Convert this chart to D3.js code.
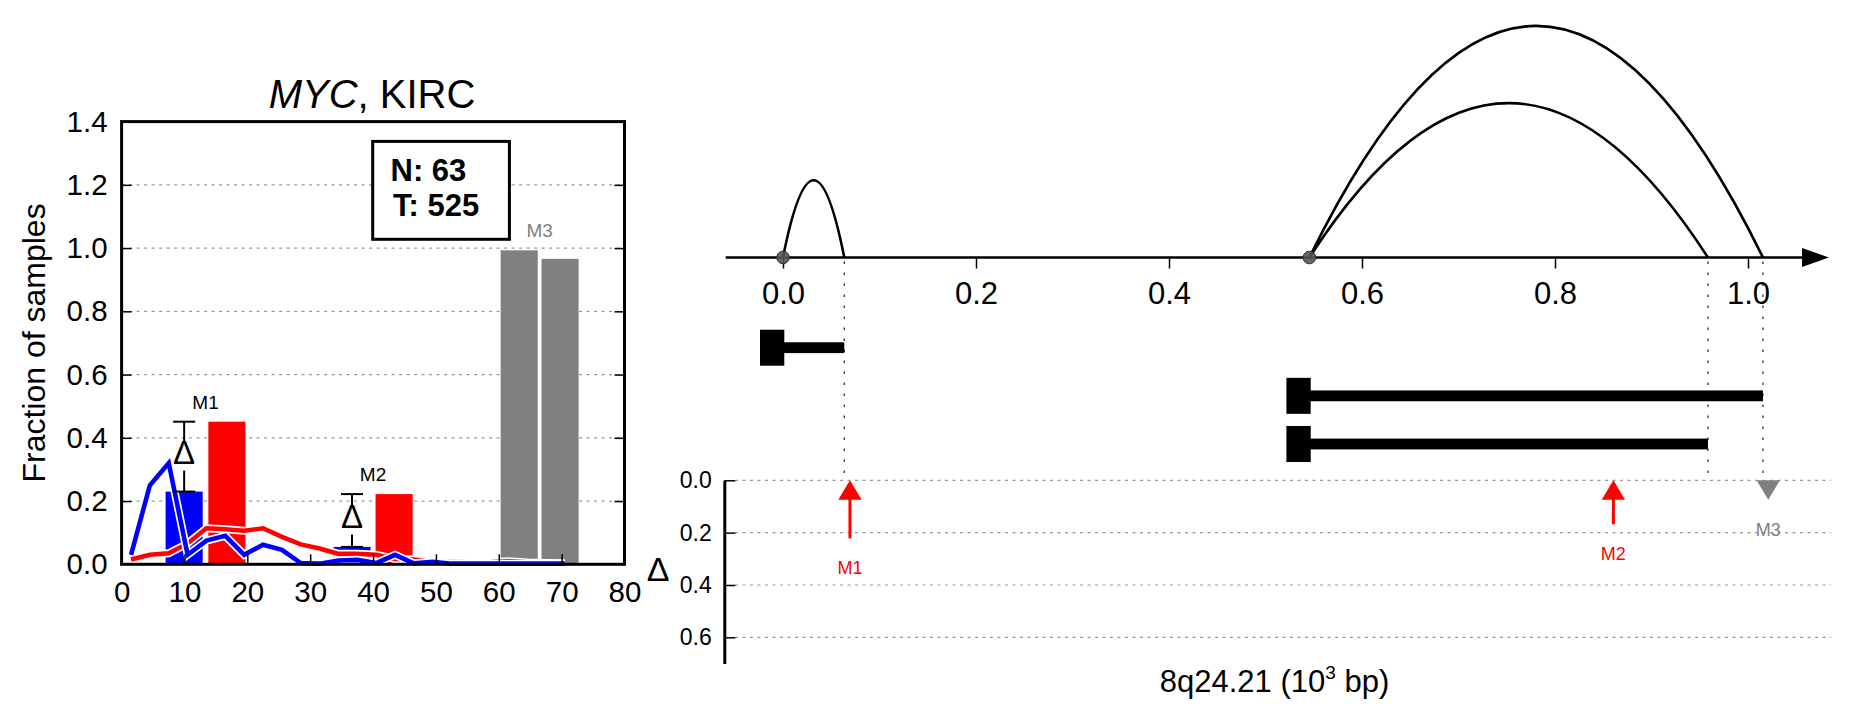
<!DOCTYPE html>
<html><head><meta charset="utf-8">
<script src="https://cdn.jsdelivr.net/npm/d3@7"></script>
<style>
body{margin:0;background:#fff}
svg text{font-family:"Liberation Sans",Arial,Helvetica,sans-serif}
</style>
</head><body>
<svg id="c" width="1851" height="718"></svg>
<script>
// ---------------- DATA: left panel ----------------
const yTicksL = [0.0, 0.2, 0.4, 0.6, 0.8, 1.0, 1.2, 1.4];
const xTicksL = [0, 10, 20, 30, 40, 50, 60, 70, 80];
const markers = ["M1", "M2", "M3"];
const normalBarStart = [7.0, 33.7, 60.3];
const tumorBarStart = [13.8, 40.4, 66.8];
const barSpan = 5.9;
const normalFrac = [0.23, 0.055, 0.993];
const tumorFrac = [0.451, 0.222, 0.966];
const markerSignificant = [true, true, false];
const lineX = [1.5, 4.5, 7.5, 10.5, 13.5, 16.5, 19.5, 22.5, 25.5, 28.5, 31.5, 34.5,
               37.5, 40.5, 43.5, 46.5, 49.5, 52.5, 55.5, 58.5, 61.5, 64.5, 67.5, 70.5];
const normalLine = [0.03, 0.25, 0.32, 0.03, 0.075, 0.09, 0.03, 0.062, 0.046, 0.004, 0.002, 0.012,
                    0.014, 0.004, 0.03, 0.003, 0.008, 0.002, 0.002, 0.002, 0.002, 0.002, 0.002, 0.002];
const tumorLine = [0.015, 0.03, 0.035, 0.066, 0.114, 0.111, 0.106, 0.114, 0.087, 0.063, 0.05, 0.033,
                   0.033, 0.03, 0.017, 0.015, 0.008, 0.007, 0.006, 0.006, 0.01, 0.006, 0.004, 0.003];
const nNormal = 63, nTumor = 525;

// ---------------- DATA: right panel ----------------
const posTicks = [0.0, 0.2, 0.4, 0.6, 0.8, 1.0];
const deltaTicks = [0.0, 0.2, 0.4, 0.6];
const junctionStart = [0.0, 0.5455, 0.5455];
const junctionEnd = [0.0635, 1.0155, 0.9585];
const junctionReads = [1, 3, 2];
const transcriptStart = [0.0, 0.5455, 0.5455];
const transcriptEnd = [0.0635, 1.0155, 0.9585];
const markerPos = [0.0694, 0.8605, 1.021];
const markerDelta = [0.222, 0.168, -0.027];

// ---------------- DRAW ----------------
const svg = d3.select("#c");
const FONT = '"Liberation Sans",Arial,Helvetica,sans-serif';
const RED = "#ff0000", BLUE = "#0000ff", GRAY = "#808080";

// ===== Left panel =====
const xL = d3.scaleLinear().domain([0, 80]).range([121.6, 624.5]);
const yL = d3.scaleLinear().domain([0, 1.4]).range([564.3, 121.6]);
const gL = svg.append("g");

// gridlines
gL.append("g").selectAll("line").data(yTicksL.filter(v => v > 0 && v < 1.4)).join("line")
  .attr("x1", xL(0)).attr("x2", xL(80)).attr("y1", d => yL(d)).attr("y2", d => yL(d))
  .attr("stroke", "#999").attr("stroke-width", 1.2).attr("stroke-dasharray", "3,4.5");

// bars
markers.forEach((m, i) => {
  const cN = markerSignificant[i] ? BLUE : GRAY;
  const cT = markerSignificant[i] ? RED : GRAY;
  gL.append("rect").attr("x", xL(normalBarStart[i])).attr("width", xL(normalBarStart[i] + barSpan) - xL(normalBarStart[i]))
    .attr("y", yL(normalFrac[i])).attr("height", yL(0) - yL(normalFrac[i])).attr("fill", cN);
  gL.append("rect").attr("x", xL(tumorBarStart[i])).attr("width", xL(tumorBarStart[i] + barSpan) - xL(tumorBarStart[i]))
    .attr("y", yL(tumorFrac[i])).attr("height", yL(0) - yL(tumorFrac[i])).attr("fill", cT);
});

// lines with white casing
const lineGen = d3.line().x((d, i) => xL(lineX[i])).y(d => yL(d));
[[tumorLine, RED], [normalLine, BLUE]].forEach(([vals, col]) => {
  gL.append("path").attr("d", lineGen(vals)).attr("fill", "none").attr("stroke", "#fff").attr("stroke-width", 8).attr("stroke-linejoin", "miter");
  gL.append("path").attr("d", lineGen(vals)).attr("fill", "none").attr("stroke", col).attr("stroke-width", 4.6).attr("stroke-linejoin", "miter");
});

// error bars with delta + labels
markers.forEach((m, i) => {
  const xc = xL(normalBarStart[i] + barSpan / 2);
  svg.append("text").attr("x", xL(normalBarStart[i] + barSpan + (tumorBarStart[i] - normalBarStart[i] - barSpan) / 2))
    .attr("y", Math.min(yL(normalFrac[i]), yL(tumorFrac[i])) - 13)
    .attr("text-anchor", "middle").attr("font-size", 19).attr("fill", markerSignificant[i] ? "#000" : GRAY).text(m);
  if (!markerSignificant[i]) return;
  const yTop = yL(Math.max(normalFrac[i], tumorFrac[i]));
  const yBot = yL(Math.min(normalFrac[i], tumorFrac[i]));
  const mid = (yTop + yBot) / 2;
  const g = gL.append("g").attr("stroke", "#000").attr("stroke-width", 2);
  g.append("line").attr("x1", xc).attr("x2", xc).attr("y1", yTop).attr("y2", mid - 15);
  g.append("line").attr("x1", xc).attr("x2", xc).attr("y1", mid + 14).attr("y2", yBot);
  g.append("line").attr("x1", xc - 11).attr("x2", xc + 11).attr("y1", yTop).attr("y2", yTop);
  g.append("line").attr("x1", xc - 11).attr("x2", xc + 11).attr("y1", yBot).attr("y2", yBot);
  gL.append("text").attr("x", xc).attr("y", mid + 7).attr("text-anchor", "middle").attr("font-size", 33).text("Δ");
});

// inset box
gL.append("rect").attr("x", 372.7).attr("y", 141.4).attr("width", 136.7).attr("height", 97.9)
  .attr("fill", "#fff").attr("stroke", "#000").attr("stroke-width", 3);
gL.append("text").attr("x", 390.5).attr("y", 180.5).attr("font-size", 31).attr("font-weight", "bold").text("N: " + nNormal);
gL.append("text").attr("x", 393).attr("y", 216).attr("font-size", 31).attr("font-weight", "bold").text("T: " + nTumor);

// axes (inside ticks)
function styleAxis(g, fs) {
  g.attr("font-family", FONT).attr("font-size", fs);
  g.selectAll(".tick line").attr("stroke", "#000").attr("stroke-width", 1.5);
  g.selectAll(".tick text").attr("fill", "#000");
  g.select(".domain").remove();
}
const axL = gL.append("g").attr("transform", `translate(${xL(0)},0)`)
  .call(d3.axisLeft(yL).tickValues(yTicksL).tickSize(-10).tickPadding(14).tickFormat(d3.format(".1f")));
styleAxis(axL, 29.5);
axL.selectAll(".tick").filter(d => d === 0 || d === 1.4).select("line").remove();
const axR = gL.append("g").attr("transform", `translate(${xL(80)},0)`)
  .call(d3.axisRight(yL).tickValues(yTicksL.filter(v => v > 0 && v < 1.4)).tickSize(-10).tickFormat(""));
styleAxis(axR, 29);
const axB = gL.append("g").attr("transform", `translate(0,${yL(0)})`)
  .call(d3.axisBottom(xL).tickValues(xTicksL).tickSize(-10).tickPadding(16.4).tickFormat(d3.format("d")));
styleAxis(axB, 29.5);
axB.selectAll(".tick").filter(d => d === 0 || d === 80).select("line").remove();

// frame
gL.append("rect").attr("x", xL(0)).attr("y", yL(1.4)).attr("width", xL(80) - xL(0)).attr("height", yL(0) - yL(1.4))
  .attr("fill", "none").attr("stroke", "#000").attr("stroke-width", 3);

// title
const title = svg.append("text").attr("x", 372).attr("y", 108).attr("text-anchor", "middle").attr("font-size", 40);
title.append("tspan").attr("font-style", "italic").text("MYC");
title.append("tspan").text(", KIRC");

// y label
svg.append("text").attr("transform", `translate(45,${(yL(0) + yL(1.4)) / 2}) rotate(-90)`)
  .attr("text-anchor", "middle").attr("font-size", 32).text("Fraction of samples");

// ===== Right panel =====
const xR = d3.scaleLinear().domain([0, 1]).range([783, 1748]);
const axisY = 257.5;
const yD = d3.scaleLinear().domain([0, 0.7]).range([480.3, 663.5]);
const arcScale = d3.scaleLinear().domain([0, 1]).range([0, 77.2]);
const rowY = d3.scalePoint().domain([0, 1, 2]).range([347.7, 444]);
const gR = svg.append("g");

// delta gridlines
gR.append("g").selectAll("line").data(deltaTicks).join("line")
  .attr("x1", 735).attr("x2", 1831).attr("y1", d => yD(d)).attr("y2", d => yD(d))
  .attr("stroke", "#999").attr("stroke-width", 1.2).attr("stroke-dasharray", "3,4.5");

// vertical dotted guides at junction ends
const ends = Array.from(new Set(junctionEnd));
gR.append("g").selectAll("line").data(ends).join("line")
  .attr("x1", d => xR(d)).attr("x2", d => xR(d)).attr("y1", axisY + 4).attr("y2", yD(0) - 2)
  .attr("stroke", "#333").attr("stroke-width", 1.3).attr("stroke-dasharray", "2.5,8.5");

// axis line + arrow
gR.append("line").attr("x1", 725.7).attr("x2", 1805).attr("y1", axisY).attr("y2", axisY).attr("stroke", "#000").attr("stroke-width", 2.6);
gR.append("path").attr("d", `M1802,${axisY - 9.5}L1829,${axisY}L1802,${axisY + 9.5}Z`).attr("fill", "#000");

const axPos = gR.append("g").attr("transform", `translate(0,${axisY})`)
  .call(d3.axisBottom(xR).tickValues(posTicks).tickSize(11).tickPadding(13.5).tickFormat(d3.format(".1f")));
styleAxis(axPos, 31);

// arcs
junctionStart.forEach((s, i) => {
  const x0 = xR(s), x1 = xR(junctionEnd[i]), h = arcScale(junctionReads[i]);
  const p = d3.path();
  p.moveTo(x0, axisY);
  p.quadraticCurveTo((x0 + x1) / 2, axisY - 2 * h, x1, axisY);
  gR.append("path").attr("d", p.toString()).attr("fill", "none").attr("stroke", "#000").attr("stroke-width", 2.6);
});

// junction start points
Array.from(new Set(junctionStart)).forEach(s => {
  gR.append("circle").attr("cx", xR(s)).attr("cy", axisY).attr("r", 6.3)
    .attr("fill", "#555").attr("fill-opacity", 0.9).attr("stroke", "#333").attr("stroke-width", 1);
});

// transcripts
transcriptStart.forEach((s, i) => {
  const y = rowY(i);
  gR.append("rect").attr("x", xR(s) - 23).attr("y", y - 18).attr("width", 24.3).attr("height", 36).attr("fill", "#000");
  gR.append("rect").attr("x", xR(s)).attr("y", y - 5.4).attr("width", xR(transcriptEnd[i]) - xR(s)).attr("height", 10.8).attr("fill", "#000");
});

// delta axis
const axD = gR.append("g").attr("transform", "translate(724.3,0)")
  .call(d3.axisLeft(yD).tickValues(deltaTicks).tickSize(-11).tickSizeOuter(0).tickPadding(12.5).tickFormat(d3.format(".1f")));
axD.attr("font-family", FONT).attr("font-size", 23);
axD.selectAll(".tick line").attr("stroke", "#000").attr("stroke-width", 1.5);
axD.selectAll(".tick text").attr("fill", "#000");
axD.select(".domain").attr("stroke", "#000").attr("stroke-width", 3);
svg.append("text").attr("x", 658).attr("y", 581).attr("text-anchor", "middle").attr("font-size", 34).text("Δ");

// markers (arrows)
markers.forEach((m, i) => {
  const x = xR(markerPos[i]);
  const col = markerSignificant[i] ? RED : GRAY;
  const y0 = yD(0), headL = 19.5, hw = 11.7;
  let endY;
  if (markerDelta[i] > 0) {
    const yt = yD(markerDelta[i]);
    gR.append("line").attr("x1", x).attr("x2", x).attr("y1", y0 + headL - 1).attr("y2", yt).attr("stroke", col).attr("stroke-width", 3);
    gR.append("path").attr("d", `M${x},${y0}L${x + hw},${y0 + headL}L${x - hw},${y0 + headL}Z`).attr("fill", col);
    endY = yt;
  } else {
    gR.append("path").attr("d", `M${x - hw},${y0}L${x + hw},${y0}L${x},${y0 + headL}Z`).attr("fill", col);
    endY = Math.max(yD(-markerDelta[i]), y0 + headL);
  }
  gR.append("text").attr("x", x).attr("y", endY + 36).attr("text-anchor", "middle").attr("font-size", 18).attr("fill", col).text(m);
});

// x title
const xt = svg.append("text").attr("x", 1274.5).attr("y", 691.5).attr("text-anchor", "middle").attr("font-size", 31);
xt.append("tspan").text("8q24.21 (10");
xt.append("tspan").attr("font-size", 19).attr("dy", -13).text("3");
xt.append("tspan").attr("dy", 13).text(" bp)");
</script>
</body></html>
